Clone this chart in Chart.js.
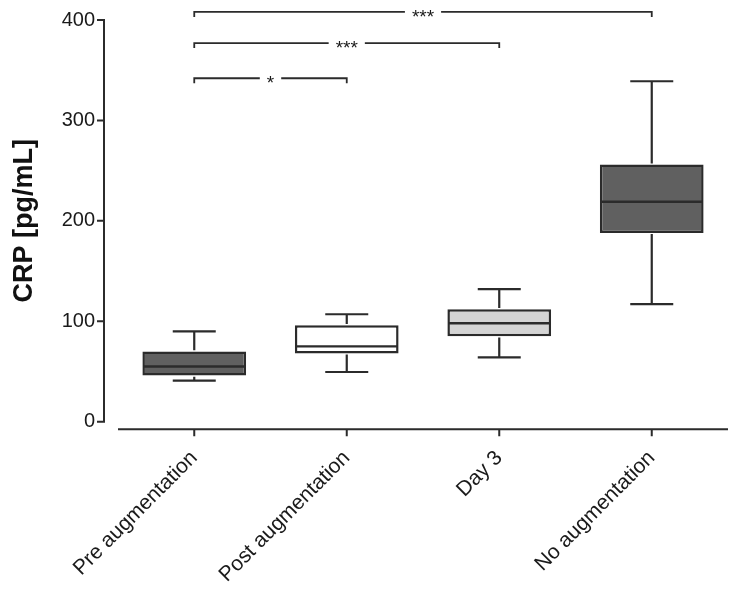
<!DOCTYPE html>
<html><head><meta charset="utf-8">
<script src="https://cdn.jsdelivr.net/npm/chart.js@4"></script>
<style>html,body{margin:0;padding:0;background:#fff}#wrap{width:738px;height:591px}</style>
</head><body><div id="wrap"><canvas id="c" width="738" height="591"></canvas></div>
<script>
const categories = ['Pre augmentation', 'Post augmentation', 'Day 3', 'No augmentation'];
const whiskerLow  = [41, 49.5, 64, 117];
const q1          = [46, 68, 85, 188];
const median      = [55, 75, 98, 219];
const q3          = [70, 96, 112, 256];
const whiskerHigh = [90, 107, 132, 339];
const yTicks = [0, 100, 200, 300, 400];
const compFrom  = [0, 0, 0];
const compTo    = [3, 2, 1];
const compLabel = ['***', '***', '*'];
const compY     = [408, 377, 342];
const boxColors = ['#606060', '#ffffff', '#d4d4d4', '#606060'];

const FONT = "'Liberation Sans', Arial, Helvetica, sans-serif";
const INK = '#2b2b2b';

const boxExtras = {
  id: 'boxExtras',
  afterDatasetsDraw(chart) {
    const ctx = chart.ctx, y = chart.scales.y;
    const meta = chart.getDatasetMeta(0);
    ctx.save();
    ctx.strokeStyle = INK;
    ctx.lineCap = 'butt';
    meta.data.forEach((bar, i) => {
      const x = bar.x, hw = bar.width / 2, cap = 21.5;
      ctx.lineWidth = 2.2;
      ctx.beginPath();
      ctx.moveTo(x, y.getPixelForValue(q3[i]) - 1.2);
      ctx.lineTo(x, y.getPixelForValue(whiskerHigh[i]));
      ctx.moveTo(x, y.getPixelForValue(q1[i]) + 1.2);
      ctx.lineTo(x, y.getPixelForValue(whiskerLow[i]));
      ctx.moveTo(x - cap, y.getPixelForValue(whiskerHigh[i]));
      ctx.lineTo(x + cap, y.getPixelForValue(whiskerHigh[i]));
      ctx.moveTo(x - cap, y.getPixelForValue(whiskerLow[i]));
      ctx.lineTo(x + cap, y.getPixelForValue(whiskerLow[i]));
      ctx.stroke();
      ctx.lineWidth = 2.4;
      ctx.beginPath();
      ctx.moveTo(x - hw + 1, y.getPixelForValue(median[i]));
      ctx.lineTo(x + hw - 1, y.getPixelForValue(median[i]));
      ctx.stroke();
    });
    ctx.restore();
  }
};

const axesAndBrackets = {
  id: 'axesAndBrackets',
  afterDraw(chart) {
    const ctx = chart.ctx, xs = chart.scales.x, ys = chart.scales.y, ca = chart.chartArea;
    ctx.save();
    ctx.strokeStyle = INK;
    ctx.lineWidth = 2;
    const ax = ca.left - 14;
    ctx.beginPath();
    ctx.moveTo(ax, ys.getPixelForValue(400) - 1);
    ctx.lineTo(ax, ys.getPixelForValue(0) + 1);
    yTicks.forEach(v => {
      const py = ys.getPixelForValue(v);
      ctx.moveTo(ax - 7, py);
      ctx.lineTo(ax, py);
    });
    ctx.stroke();
    const ay = ys.getPixelForValue(0) + 7.6;
    ctx.beginPath();
    ctx.moveTo(ca.left, ay);
    ctx.lineTo(ca.right, ay);
    categories.forEach((c, i) => {
      const px = xs.getPixelForValue(i);
      ctx.moveTo(px, ay);
      ctx.lineTo(px, ay + 7);
    });
    ctx.stroke();
    ctx.lineWidth = 1.8;
    ctx.font = '19px ' + FONT;
    ctx.fillStyle = '#1a1a1a';
    ctx.textAlign = 'center';
    ctx.textBaseline = 'alphabetic';
    compLabel.forEach((lab, k) => {
      const x1 = xs.getPixelForValue(compFrom[k]);
      const x2 = xs.getPixelForValue(compTo[k]);
      const py = ys.getPixelForValue(compY[k]);
      const mid = (x1 + x2) / 2;
      const tw = ctx.measureText(lab).width;
      const gap = tw / 2 + 7;
      ctx.beginPath();
      ctx.moveTo(x1, py + 5);
      ctx.lineTo(x1, py);
      ctx.lineTo(mid - gap, py);
      ctx.moveTo(mid + gap, py);
      ctx.lineTo(x2, py);
      ctx.lineTo(x2, py + 5);
      ctx.stroke();
      ctx.fillText(lab, mid, py + 11);
    });
    ctx.restore();
  }
};

new Chart(document.getElementById('c'), {
  type: 'bar',
  data: {
    labels: categories,
    datasets: [{
      data: q1.map((v, i) => [v, q3[i]]),
      backgroundColor: boxColors,
      borderColor: INK,
      borderWidth: 2.5,
      borderSkipped: false,
      barPercentage: 0.68,
      categoryPercentage: 1
    }]
  },
  options: {
    responsive: false,
    devicePixelRatio: 1,
    animation: false,
    layout: { padding: { top: 20, right: 10, left: 0, bottom: 0 } },
    plugins: { legend: { display: false }, tooltip: { enabled: false } },
    scales: {
      x: {
        type: 'category',
        grid: { display: false, drawTicks: false },
        border: { display: false },
        ticks: {
          autoSkip: false, maxRotation: 45, minRotation: 45,
          font: { family: FONT, size: 21 }, color: '#1a1a1a', padding: 24
        },
        afterFit(s) { s.height = 591 - 421.7; s.paddingLeft = 0; s.paddingRight = 0; s.paddingTop = 0; s.paddingBottom = 0; }
      },
      y: {
        min: 0, max: 400,
        grid: { display: false, drawTicks: false },
        border: { display: false },
        ticks: { stepSize: 100, font: { family: FONT, size: 20 }, color: '#1a1a1a', padding: 23 },
        title: {
          display: true, text: 'CRP [pg/mL]', color: '#111',
          font: { family: FONT, size: 27, weight: 'bold' },
          padding: { top: 8, bottom: 0 }
        },
        afterFit(s) { s.width = 118; s.paddingTop = 0; s.paddingBottom = 0; s.paddingLeft = 0; s.paddingRight = 0; }
      }
    }
  },
  plugins: [boxExtras, axesAndBrackets]
});
</script>
</body></html>
